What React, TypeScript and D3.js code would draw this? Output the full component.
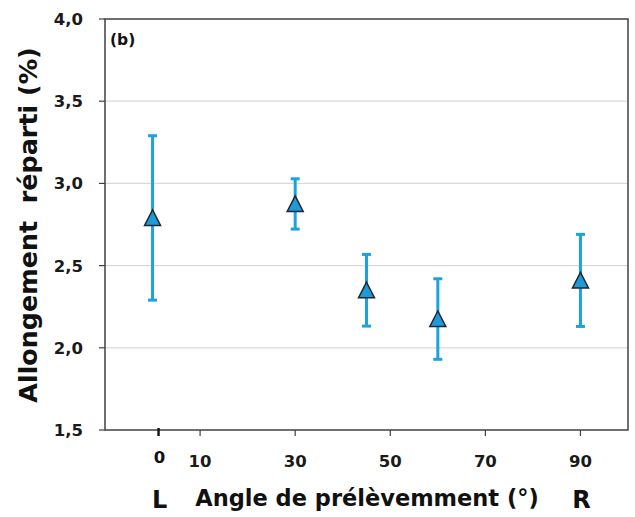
import React from "react";
import * as d3 from "d3";

const angles = [0, 30, 45, 60, 90];
const means = [2.79, 2.875, 2.35, 2.175, 2.41];
const errors = [0.5, 0.153, 0.218, 0.245, 0.28];
const xTicks = [10, 30, 50, 70, 90];
const yTicks = [1.5, 2.0, 2.5, 3.0, 3.5, 4.0];

const W = 635;
const H = 517;
const M = { left: 105, top: 19, right: 628, bottom: 430 };

export default function App() {
  const x = d3.scaleLinear().domain([-10, 100]).range([M.left, M.right]);
  const y = d3.scaleLinear().domain([1.5, 4.0]).range([M.bottom, M.top]);
  const fmt = (v: number) => v.toFixed(1).replace(".", ",");
  const triPath = d3.line()([[0, -8], [8, 7.5], [-8, 7.5]]) + "Z";
  const font = "'DejaVu Sans', Verdana, sans-serif";
  const axisColor = "#404040";
  const blue = "#1ba3dd";
  const txt = "#1a1a1a";

  return (
    <svg width={W} height={H} style={{ position: "absolute", left: 0, top: 0 }} fontFamily={font}>
      <rect width={W} height={H} fill="#fff" />
      {yTicks.filter((t) => t > 1.5 && t < 4.0).map((t) => (
        <line key={"g" + t} x1={M.left} x2={M.right} y1={y(t)} y2={y(t)} stroke="#d9d9d9" strokeWidth={1.2} />
      ))}
      <rect x={M.left} y={M.top} width={M.right - M.left} height={M.bottom - M.top} fill="none" stroke={axisColor} strokeWidth={1.5} />
      {yTicks.map((t) => (
        <g key={"y" + t}>
          <line x1={M.left - 6} x2={M.left} y1={y(t)} y2={y(t)} stroke={axisColor} strokeWidth={1.2} />
          <text x={83} y={y(t)} dy="0.36em" textAnchor="end" fontSize={16.5} fontWeight="bold" fill={txt}>{fmt(t)}</text>
        </g>
      ))}
      {xTicks.map((t) => (
        <g key={"x" + t}>
          <line x1={x(t)} x2={x(t)} y1={M.bottom} y2={M.bottom + 6} stroke={axisColor} strokeWidth={1.2} />
          <text x={x(t)} y={467} textAnchor="middle" fontSize={16.5} fontWeight="bold" fill={txt}>{t}</text>
        </g>
      ))}
      <line x1={x(0) + 6} x2={x(0) + 6} y1={M.bottom - 2} y2={M.bottom + 6} stroke="#111" strokeWidth={2.4} />
      <text x={x(0) + 7} y={463} textAnchor="middle" fontSize={16.5} fontWeight="bold" fill="#111">0</text>
      <text x={x(0) + 7} y={508} textAnchor="middle" fontSize={24} fontWeight="bold" fill="#111">L</text>
      <text x={x(90) + 1} y={508} textAnchor="middle" fontSize={24} fontWeight="bold" fill="#111">R</text>
      <text x={367} y={506} textAnchor="middle" fontSize={22.5} fontWeight="bold" fill="#111">Angle de prélèvemment (°)</text>
      <text transform={`translate(37,225) rotate(-90)`} textAnchor="middle" fontSize={25.4} fontWeight="bold" fill="#111" style={{ whiteSpace: "pre" }}>{"Allongement  réparti (%)"}</text>
      <text x={110} y={45} fontSize={15.5} fontWeight="bold" fill="#111">(b)</text>
      {angles.map((a, i) => {
        const cx = x(a);
        const y1 = y(means[i] + errors[i]);
        const y2 = y(means[i] - errors[i]);
        return (
          <g key={"p" + a}>
            <line x1={cx} x2={cx} y1={y1} y2={y2} stroke={blue} strokeWidth={3} />
            <line x1={cx - 4.5} x2={cx + 4.5} y1={y1} y2={y1} stroke={blue} strokeWidth={3} />
            <line x1={cx - 4.5} x2={cx + 4.5} y1={y2} y2={y2} stroke={blue} strokeWidth={3} />
            <path d={triPath} transform={`translate(${cx},${y(means[i])})`} fill="#1e9ad6" stroke="#1b2733" strokeWidth={1.5} strokeLinejoin="miter" />
          </g>
        );
      })}
    </svg>
  );
}
